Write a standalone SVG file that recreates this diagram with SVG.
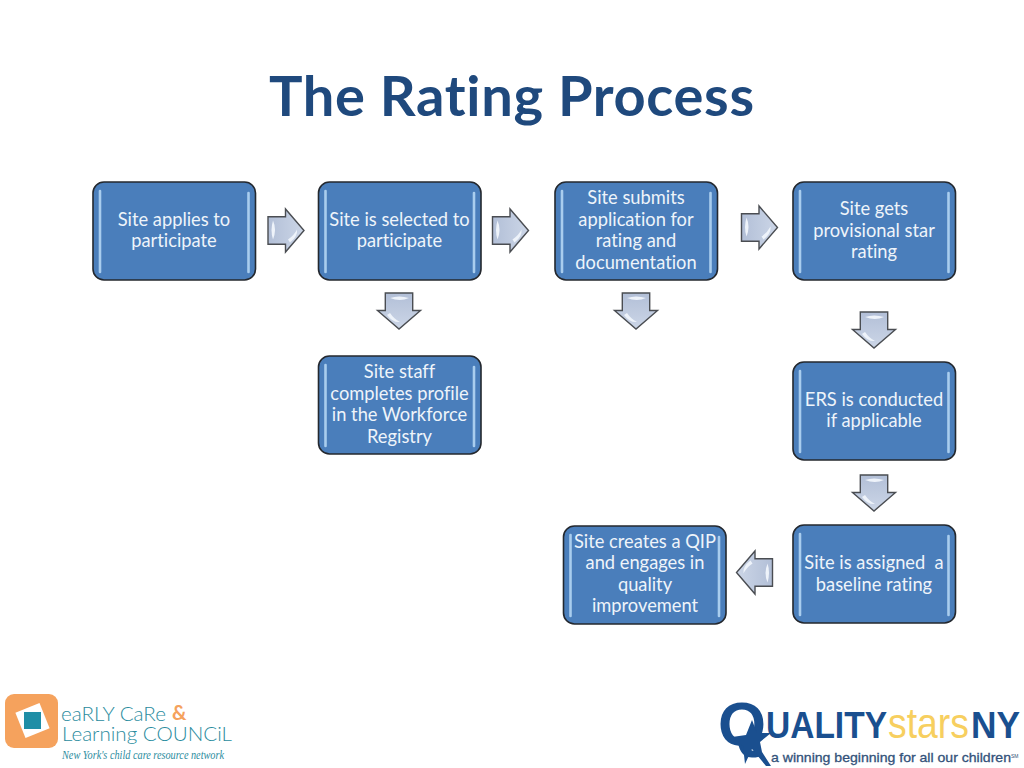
<svg xmlns="http://www.w3.org/2000/svg" width="1024" height="768" viewBox="0 0 1024 768">
<style>
text{font-variant-ligatures:none}
.t{font-family:Lato,"Open Sans",sans-serif;font-size:18.3px;fill:#eef4fa;text-anchor:middle}
.box{fill:#4a7ebb;stroke:#24282e;stroke-width:1.6}
.hl{stroke:#a9cdee;stroke-width:2.6;stroke-linecap:round;fill:none}
.ar{fill:url(#ag);stroke:#4a4d52;stroke-width:1.4;stroke-linejoin:miter}
.ah{fill:#eef3fa}
.elc{font-family:Lato,sans-serif;font-size:20px;font-weight:300;fill:#2b8c9e}
.qs{font-family:"Liberation Sans",sans-serif;font-size:37px;font-weight:700;fill:#1a4f8f}
</style>
<defs>
<linearGradient id="ag" x1="0" y1="0" x2="1" y2="0"><stop offset="0" stop-color="#b2bfd7"/><stop offset="1" stop-color="#ccd6e7"/></linearGradient>
<g id="arrow"><polygon class="ar" points="-18,-13.7 -0.5,-13.7 -0.5,-21.500 18,0 -0.5,21.500 -0.5,13.7 -18,13.7"/><path class="ah" d="M-13,-10Q-9,-1 -13,9Q-16,0 -13,-10Z"/><path class="ah" d="M2,9Q8,5 11,-1Q12,6 4,12Z"/></g>
<g id="nodebox"><rect class="box" width="162.500" height="98" rx="11" ry="11"/><line class="hl" x1="7" y1="9" x2="7" y2="90"/><line class="hl" x1="155.500" y1="11" x2="155.500" y2="90"/></g>
</defs>
<rect width="1024" height="768" fill="#fff"/>
<text id="title" x="269" y="115.500" font-family="Lato,'Open Sans',sans-serif" font-size="56" font-weight="700" fill="#1f497d" textLength="485" lengthAdjust="spacing">The Rating Process</text>
<g id="connectors">
<use href="#arrow" transform="translate(286,230.500)"/>
<use href="#arrow" transform="translate(510.500,230.500)"/>
<use href="#arrow" transform="translate(759.500,227.500)"/>
<use href="#arrow" transform="translate(399,311) rotate(90)"/>
<use href="#arrow" transform="translate(636,311) rotate(90)"/>
<use href="#arrow" transform="translate(874,330) rotate(90)"/>
<use href="#arrow" transform="translate(874,493) rotate(90)"/>
<use href="#arrow" transform="translate(754.500,572.500) rotate(180)"/>
</g>
<g id="n1"><use href="#nodebox" x="93" y="182"/><text class="t" x="174" y="225.500">Site applies to</text><text class="t" x="174" y="247">participate</text></g>
<g id="n2"><use href="#nodebox" x="318.500" y="182"/><text class="t" x="399.500" y="225.500">Site is selected to</text><text class="t" x="399.500" y="247">participate</text></g>
<g id="n3"><use href="#nodebox" x="555" y="182"/><text class="t" x="636" y="204">Site submits</text><text class="t" x="636" y="225.500">application for</text><text class="t" x="636" y="247">rating and</text><text class="t" x="636" y="268.500">documentation</text></g>
<g id="n4"><use href="#nodebox" x="793" y="182"/><text class="t" x="874" y="215">Site gets</text><text class="t" x="874" y="236.500">provisional star</text><text class="t" x="874" y="258">rating</text></g>
<g id="n5"><use href="#nodebox" x="318.500" y="356"/><text class="t" x="399.500" y="378">Site staff</text><text class="t" x="399.500" y="399.500">completes profile</text><text class="t" x="399.500" y="421">in the Workforce</text><text class="t" x="399.500" y="442.500">Registry</text></g>
<g id="n6"><use href="#nodebox" x="793" y="362"/><text class="t" x="874" y="405.500">ERS is conducted</text><text class="t" x="874" y="427">if applicable</text></g>
<g id="n7"><use href="#nodebox" x="793" y="525"/><text class="t" x="874" y="569" xml:space="preserve">Site is assigned  a</text><text class="t" x="874" y="590.500">baseline rating</text></g>
<g id="n8"><use href="#nodebox" x="563.500" y="526"/><text class="t" x="645" y="547.500">Site creates a QIP</text><text class="t" x="645" y="569">and engages in</text><text class="t" x="645" y="590.500">quality</text><text class="t" x="645" y="612">improvement</text></g>
<g id="logo-elc">
<rect x="5" y="694" width="53" height="54" rx="9" fill="#f5a25d"/>
<rect x="19.500" y="707" width="26" height="27" fill="#fff" transform="rotate(-22 32.500 720.500)"/>
<rect x="24" y="712" width="17" height="17" fill="#1f8ea6"/>
<text class="elc" x="61" y="721" textLength="105" lengthAdjust="spacingAndGlyphs">eaRLY CaRe</text>
<text x="172" y="720" font-family="Lato,sans-serif" font-size="20" font-weight="700" fill="#f5a25d">&amp;</text>
<text class="elc" x="62" y="741" textLength="170" lengthAdjust="spacingAndGlyphs">Learning COUNCiL</text>
<text x="62" y="759" font-family="'Liberation Serif',serif" font-size="11.500" font-style="italic" fill="#2b8c9e" textLength="162" lengthAdjust="spacingAndGlyphs">New York's child care resource network</text>
</g>
<g id="logo-qsny">
<text x="718" y="745" font-family="'Liberation Sans',sans-serif" font-size="62" font-weight="700" fill="#1a4f8f" textLength="48" lengthAdjust="spacingAndGlyphs">Q</text>
<polygon points="752,720 757,733 771,733 760,742 762,752 771,766 766,766 752,749 745,764 743,746 732,737 746,735" fill="#1a4f8f"/>
<text class="qs" x="766" y="738" textLength="121" lengthAdjust="spacingAndGlyphs">UALITY</text>
<text x="888" y="738" font-family="'Liberation Sans',sans-serif" font-size="42" fill="#f7cf5f" textLength="81" lengthAdjust="spacingAndGlyphs">stars</text>
<text class="qs" x="971" y="738" textLength="49" lengthAdjust="spacingAndGlyphs">NY</text>
<text x="771" y="762" font-family="'Liberation Sans',sans-serif" font-size="13" fill="#33527a" stroke="#33527a" stroke-width=".3" textLength="240" lengthAdjust="spacingAndGlyphs">a winning beginning for all our children</text>
<text x="1011" y="758" font-family="'Liberation Sans',sans-serif" font-size="5" fill="#33527a">SM</text>
</g>
</svg>
